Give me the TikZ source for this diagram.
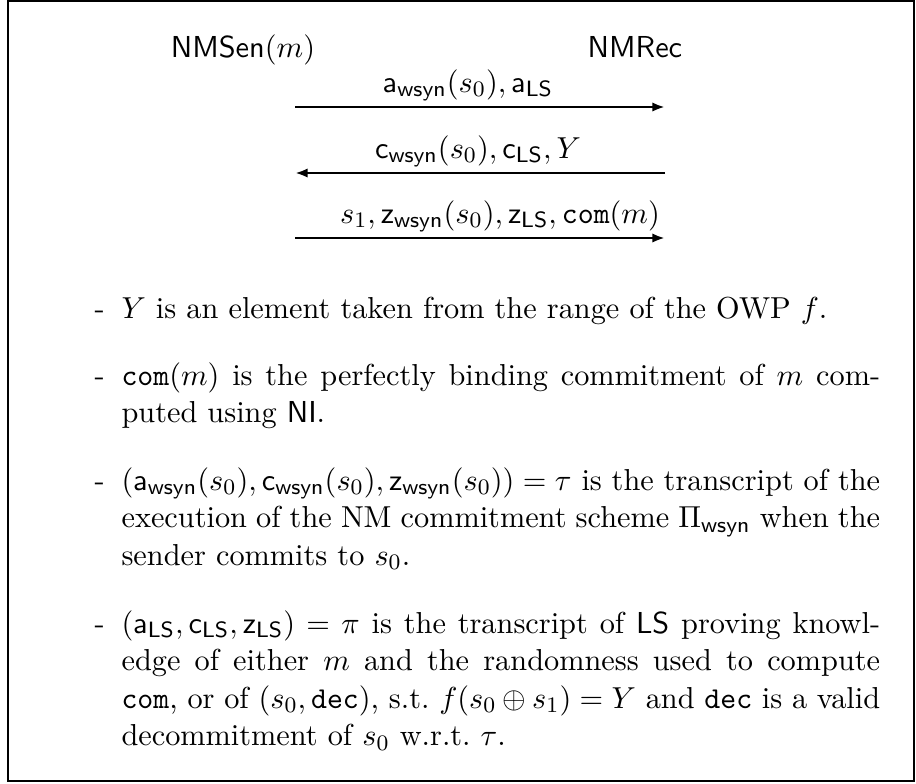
\documentclass[tikz,border=0pt]{standalone}
\usepackage{amsmath}
\usepackage{tikz}
\usetikzlibrary{arrows.meta}

\begin{document}
\begin{tikzpicture}[x=0.3612pt, y=-0.3612pt,
  hdr/.style={font=\fontsize{11.2}{13.6}\selectfont, inner sep=0pt, anchor=base},
  lbl/.style={font=\fontsize{10.95}{13.6}\selectfont, inner sep=0pt, anchor=base},
  msg/.style={-{Latex[length=4.6pt,width=3.4pt]}, line width=1pt},
  itemmark/.style={font=\fontsize{10.95}{13.6}\selectfont, inner sep=0pt, anchor=base west},
  itemtext/.style={font=\fontsize{10.95}{13.6}\selectfont, inner sep=0pt, anchor=base west,
    text width=274pt, align=justify}]

  \useasboundingbox (0,0) rectangle (916,783);
  \draw[line width=0.4pt] (8,1) rectangle (914,781);

  % parties
  \node[hdr] (sen) at (243,57) {$\mathsf{NMSen}(m)$};
  \node[hdr] (rec) at (635,57) {$\mathsf{NMRec}$};

  % message ends
  \coordinate (s1) at (295,107);
  \coordinate (r1) at (665,107);
  \coordinate (s2) at (295,173);
  \coordinate (r2) at (665,173);
  \coordinate (s3) at (295,238);
  \coordinate (r3) at (665,238);

  \node[lbl] (m1) at (468,92) {$\mathsf{a}_{\mathsf{wsyn}}(s_0), \mathsf{a}_{\mathsf{LS}}$};
  \node[lbl] (m2) at (478,158) {$\mathsf{c}_{\mathsf{wsyn}}(s_0), \mathsf{c}_{\mathsf{LS}}, Y$};
  \node[lbl] (m3) at (500,223) {$s_1, \mathsf{z}_{\mathsf{wsyn}}(s_0), \mathsf{z}_{\mathsf{LS}}, \mathtt{com}(m)$};

  \draw[msg] (s1) -- (r1);
  \draw[msg] (r2) -- (s2);
  \draw[msg] (s3) -- (r3);

  % remarks
  \node[itemmark] (d1) at (94,318) {-};
  \node[itemtext] (t1) at (121,318) {$Y$ is an element taken from the range of the OWP $f$.};

  \node[itemmark] (d2) at (94,385) {-};
  \node[itemtext] (t2) at (121,385) {$\mathtt{com}(m)$ is the perfectly binding commitment of $m$ com-\linebreak puted using $\mathsf{NI}$.};

  \node[itemmark] (d3) at (94,490) {-};
  \node[itemtext] (t3) at (121,490) {$(\mathsf{a}_{\mathsf{wsyn}}(s_0), \mathsf{c}_{\mathsf{wsyn}}(s_0), \mathsf{z}_{\mathsf{wsyn}}(s_0)) = \tau$ is the transcript of the\linebreak execution of the NM commitment scheme $\Pi_{\mathsf{wsyn}}$ when the\linebreak sender commits to $s_0$.};

  \node[itemmark] (d4) at (94,633) {-};
  \node[itemtext] (t4) at (121,633) {$(\mathsf{a}_{\mathsf{LS}}, \mathsf{c}_{\mathsf{LS}}, \mathsf{z}_{\mathsf{LS}}) = \pi$ is the transcript of $\mathsf{LS}$ proving knowl-\linebreak edge of either $m$ and the randomness used to compute\linebreak $\mathtt{com}$, or of $(s_0, \mathtt{dec})$, s.t.\ $f(s_0 \oplus s_1) = Y$ and $\mathtt{dec}$ is a valid\linebreak decommitment of $s_0$ w.r.t.\ $\tau$.};
\end{tikzpicture}
\end{document}
